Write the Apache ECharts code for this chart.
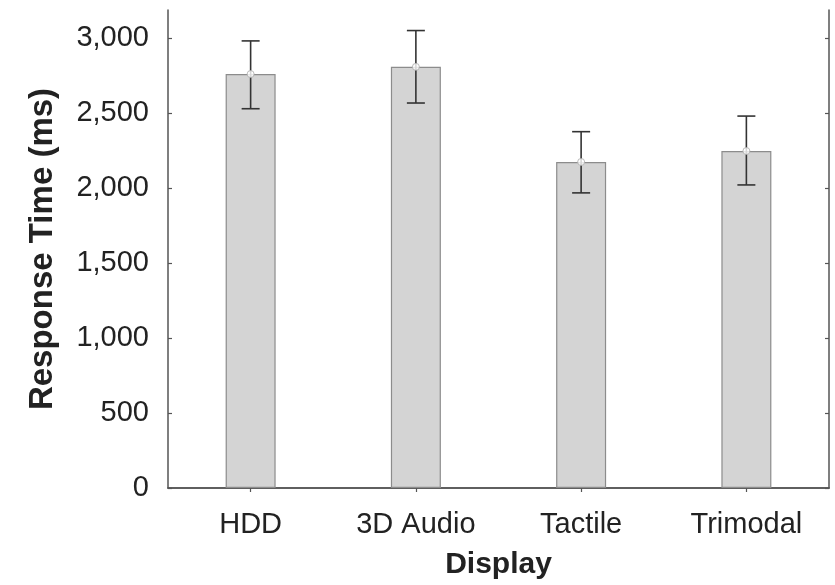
<!DOCTYPE html>
<html>
<head>
<meta charset="utf-8">
<script src="https://cdn.jsdelivr.net/npm/echarts@6/dist/echarts.min.js"></script>
<style>
  html, body { margin: 0; padding: 0; background: #fff; overflow: hidden; }
  #chart { width: 835px; height: 585px; }
</style>
</head>
<body>
<div id="chart"></div>
<script>
// Mean response time per display condition, with error bar bounds (ms)
const categories = ['HDD', '3D Audio', 'Tactile', 'Trimodal'];
const meanValues = [2759, 2807, 2173, 2246];
const upperValues = [2980, 3049, 2375, 2479];
const lowerValues = [2528, 2566, 1967, 2020];
const yTicks = [0, 500, 1000, 1500, 2000, 2500, 3000];

const FONT = '"Liberation Sans", Arial, sans-serif';
const TEXT = '#222';
const AXIS = '#555';

const chart = echarts.init(document.getElementById('chart'), null, { renderer: 'canvas', width: 835, height: 585 });

const errorData = categories.map((c, i) => [i, lowerValues[i], upperValues[i]]);

const yCommon = {
  type: 'value',
  min: 0,
  max: 3186,
  interval: 500,
  splitLine: { show: false },
  axisLine: { show: true, lineStyle: { color: AXIS, width: 1.5 } },
  axisTick: { show: true, inside: true, length: 4, lineStyle: { color: AXIS, width: 1.2 }, customValues: yTicks }
};

const xCommon = {
  type: 'category',
  data: categories,
  boundaryGap: true,
  axisLine: { show: true, lineStyle: { color: AXIS, width: 1.5 } },
  axisTick: { show: true, inside: true, length: 4, alignWithLabel: true, lineStyle: { color: AXIS, width: 1.2 } },
  splitLine: { show: false }
};

chart.setOption({
  animation: false,
  backgroundColor: '#fff',
  grid: { left: 168, width: 661, top: 10, height: 479, containLabel: false },
  xAxis: [
    Object.assign({}, xCommon, {
      position: 'bottom',
      name: 'Display',
      nameLocation: 'middle',
      nameGap: 62,
      nameTextStyle: { fontFamily: FONT, fontSize: 30, fontWeight: 'bold', color: TEXT },
      axisLabel: { fontFamily: FONT, fontSize: 29, color: TEXT, margin: 22 }
    }),
    Object.assign({}, xCommon, {
      position: 'top',
      axisLabel: { show: false }
    })
  ],
  yAxis: [
    Object.assign({}, yCommon, {
      position: 'left',
      name: 'Response Time (ms)',
      nameLocation: 'middle',
      nameGap: 109,
      nameTextStyle: { fontFamily: FONT, fontSize: 33, fontWeight: 'bold', color: TEXT },
      axisLabel: {
        fontFamily: FONT, fontSize: 29, color: TEXT, margin: 19,
        customValues: yTicks,
        formatter: v => v.toLocaleString('en-US')
      }
    }),
    Object.assign({}, yCommon, {
      position: 'right',
      axisLabel: { show: false }
    })
  ],
  series: [
    {
      type: 'bar',
      data: meanValues,
      barWidth: 50,
      itemStyle: { color: '#d4d4d4', borderColor: '#8c8c8c', borderWidth: 1.2 },
      z: 2
    },
    {
      type: 'custom',
      data: errorData,
      z: 3,
      renderItem: function (params, api) {
        const x = api.value(0);
        const lo = api.coord([x, api.value(1)]);
        const hi = api.coord([x, api.value(2)]);
        const half = 9;
        const style = { stroke: '#333', lineWidth: 1.6 };
        return {
          type: 'group',
          children: [
            { type: 'line', shape: { x1: hi[0], y1: hi[1], x2: lo[0], y2: lo[1] }, style: style },
            { type: 'line', shape: { x1: hi[0] - half, y1: hi[1], x2: hi[0] + half, y2: hi[1] }, style: style },
            { type: 'line', shape: { x1: lo[0] - half, y1: lo[1], x2: lo[0] + half, y2: lo[1] }, style: style }
          ]
        };
      }
    },
    {
      type: 'scatter',
      data: meanValues,
      symbol: 'circle',
      symbolSize: 7,
      itemStyle: { color: '#fff', borderColor: '#aaa', borderWidth: 1 },
      z: 4
    }
  ]
});
</script>
</body>
</html>
